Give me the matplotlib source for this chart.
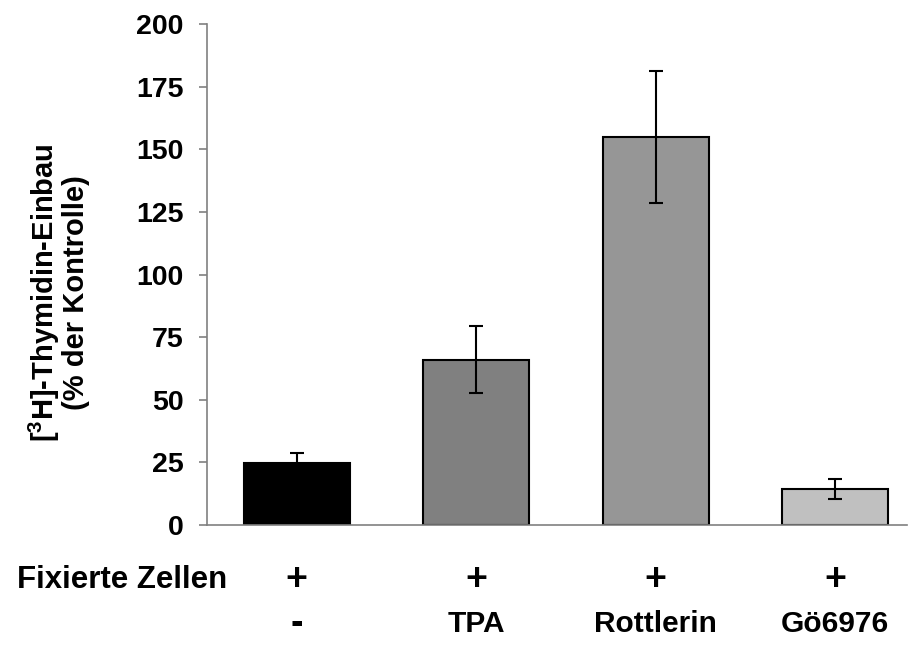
import matplotlib
matplotlib.use("Agg")
import matplotlib.pyplot as plt
import matplotlib.transforms as mtransforms

plt.rcParams['font.family'] = ['Liberation Sans', 'DejaVu Sans']
plt.rcParams['font.weight'] = 'bold'

# Daten
categories = ['-', 'TPA', 'Rottlerin', 'Gö6976']
fixed_cells = ['+', '+', '+', '+']
values = [24.8, 66.0, 155.0, 14.4]
errors = [4.0, 13.5, 26.3, 4.0]
colors = ['#000000', '#808080', '#969696', '#c0c0c0']
yticks = [0, 25, 50, 75, 100, 125, 150, 175, 200]

fig = plt.figure(figsize=(9.12, 6.46), dpi=100)
ax = fig.add_axes([0.227, 0.1873, 0.7675, 0.7755])

x = list(range(len(values)))
ax.bar(x, values, width=0.59, color=colors, edgecolor='black', linewidth=1.5, zorder=2)
ax.errorbar(x, values, yerr=errors, fmt='none', ecolor='black', elinewidth=1.5,
            capsize=5, capthick=1.5, zorder=3)

ax.set_xlim(-0.5, 3.4)
ax.set_ylim(0, 200)
ax.set_yticks(yticks)
ax.set_yticklabels([str(t) for t in yticks], fontsize=20.5, fontweight='bold')
ax.set_xticks([])
ax.tick_params(axis='y', direction='out', length=6, width=1.2, color='#808080', pad=11)

for s in ['top', 'right']:
    ax.spines[s].set_visible(False)
ax.spines['left'].set_color('#808080')
ax.spines['bottom'].set_color('#808080')
ax.spines['left'].set_linewidth(1.2)
ax.spines['bottom'].set_linewidth(1.2)

ax.set_ylabel('[$\\mathregular{^3}$H]-Thymidin-Einbau\n(% der Kontrolle)', fontsize=21,
              fontweight='bold', linespacing=1.0)
ax.yaxis.set_label_coords(-0.167, 0.463)

# Beschriftung unter der Achse
trans = mtransforms.blended_transform_factory(ax.transData, fig.transFigure)
fig.text(0.019, 0.102, 'Fixierte Zellen', fontsize=22.5, fontweight='bold', va='center', ha='left')
for xi, p in zip(x, fixed_cells):
    ax.text(xi, 0.102, p, transform=trans, fontsize=27, fontweight='bold', ha='center', va='center')
for xi, c in zip(x, categories):
    ax.text(xi, 0.034, c, transform=trans, fontsize=27 if c == '-' else 21.5,
            fontweight='bold', ha='center', va='center')

fig.savefig('out.png', dpi=100)
